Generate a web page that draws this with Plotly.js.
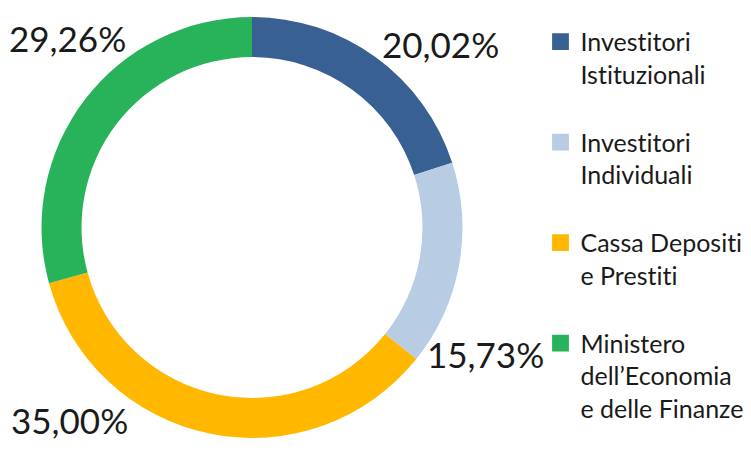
<!DOCTYPE html>
<html>
<head>
<meta charset="utf-8">
<script src="https://cdn.plot.ly/plotly-3.0.1.min.js"></script>
<style>html,body{margin:0;padding:0;background:#fff;}#chart{width:751px;height:451px;}
#chart text{font-variant-ligatures:none;font-feature-settings:"liga" 0,"clig" 0;}</style>
</head>
<body>
<div id="chart"></div>
<script>
const categories = ["Investitori<br>Istituzionali<br> ", "Investitori<br>Individuali<br> ", "Cassa Depositi<br>e Prestiti<br> ", "Ministero<br>dell’Economia<br>e delle Finanze"];
const shares = [20.02, 15.73, 35.00, 29.26];
const colors = ["#386092", "#b8cce4", "#ffb700", "#28b25a"];
const labelPos = [[0.586, 0.902], [0.646, 0.215], [0.093, 0.069], [0.0905, 0.916]];

const fmt = v => v.toFixed(2).replace('.', ',') + '%';

const trace = {
  type: 'pie',
  labels: categories,
  values: shares,
  sort: false,
  direction: 'clockwise',
  rotation: 0,
  hole: 0.81,
  textinfo: 'none',
  marker: {colors: colors, line: {width: 0}},
  domain: {x: [0.0553, 0.6158], y: [0.0288, 0.9623]},
  hoverinfo: 'none'
};

const annotations = shares.map((v, i) => ({
  text: fmt(v), x: labelPos[i][0], y: labelPos[i][1], xref: 'paper', yref: 'paper',
  showarrow: false, xanchor: 'center', yanchor: 'middle',
  font: {family: 'Lato, sans-serif', size: 35, color: '#1a1a1a'}
}));

const layout = {
  width: 751, height: 451,
  margin: {l: 0, r: 0, t: 0, b: 0},
  paper_bgcolor: '#ffffff',
  showlegend: true,
  legend: {x: 0.7197, y: 0.958, xanchor: 'left', yanchor: 'top', valign: 'top',
    font: {family: 'Lato, sans-serif', size: 25, color: '#1a1a1a'}, bgcolor: 'rgba(0,0,0,0)'},
  annotations: annotations
};

Plotly.newPlot('chart', [trace], layout, {displayModeBar: false, staticPlot: true}).then(() => {
  document.querySelectorAll('.legendpoints path').forEach(p => {
    const t = p.getAttribute('transform') || '';
    p.setAttribute('transform', t + ' scale(1.4)');
  });
});
</script>
</body>
</html>
